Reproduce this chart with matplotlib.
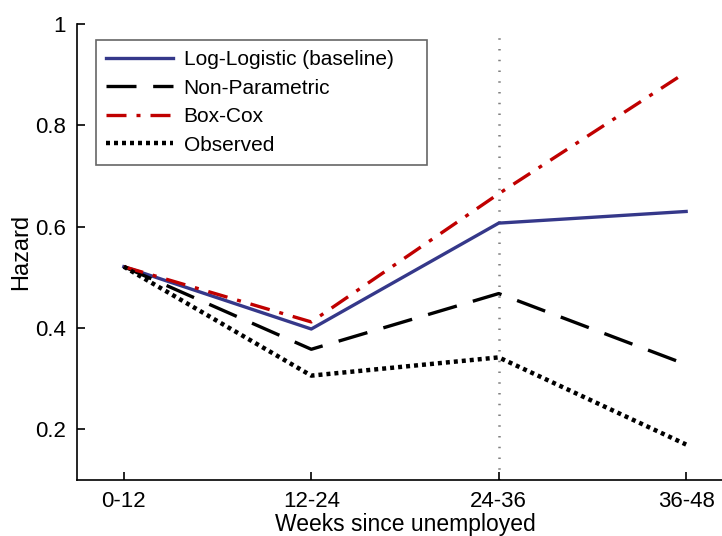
import matplotlib
matplotlib.use("Agg")
import matplotlib.pyplot as plt

plt.rcParams['font.family'] = ['Liberation Sans', 'DejaVu Sans']

# data
periods = ['0-12', '12-24', '24-36', '36-48']
log_logistic = [0.521, 0.398, 0.607, 0.630]
non_parametric = [0.521, 0.358, 0.468, 0.328]
box_cox = [0.521, 0.412, 0.665, 0.905]
observed = [0.521, 0.306, 0.342, 0.170]
yticks = [0.2, 0.4, 0.6, 0.8, 1.0]
yticklabels = ['0.2', '0.4', '0.6', '0.8', '1']

fig = plt.figure(figsize=(7.22, 5.36), dpi=100)
# right part of the axis is cut off in the original image
ax = fig.add_axes([77 / 722, 56 / 536, 656 / 722, 456 / 536])

x = list(range(1, len(periods) + 1))
ax.axvline(3, ymax=0.99, color='#808080', lw=1.8, ls=(0, (0.6, 3.7)), zorder=1)

ax.plot(x, log_logistic, color='#35388a', lw=2.4, label='Log-Logistic (baseline)')
ax.plot(x, non_parametric, color='black', lw=2.4, ls=(0, (9, 5)), label='Non-Parametric')
ax.plot(x, box_cox, color='#c00000', lw=2.4, ls=(0, (6, 3, 1.2, 3)), label='Box-Cox')
ax.plot(x, observed, color='black', lw=3.2, ls=(0, (0.9, 0.9)), label='Observed')

ax.set_xlim(0.75, 4.25)
ax.set_ylim(0.1, 1.0)
ax.set_xticks(x)
ax.set_xticklabels(periods)
ax.set_yticks(yticks)
ax.set_yticklabels(yticklabels)
ax.tick_params(labelsize=16, direction='in', length=6, width=1.2, pad=8)
ax.spines['top'].set_visible(False)
ax.spines['right'].set_visible(False)
ax.spines['left'].set_linewidth(1.2)
ax.spines['bottom'].set_linewidth(1.2)

ax.set_xlabel('Weeks since unemployed', fontsize=16.5, labelpad=1)
ax.set_ylabel('Hazard', fontsize=17, labelpad=2)

leg = ax.legend(loc='upper left', bbox_to_anchor=(0.029, 0.5, 0.505, 0.465),
                mode='expand', borderaxespad=0, fontsize=15,
                frameon=True, fancybox=False, handlelength=3.2, handletextpad=0.5,
                labelspacing=0.45, borderpad=0.5)
leg.get_frame().set_edgecolor('#404040')
leg.get_frame().set_linewidth(1.2)

fig.savefig('out.png', dpi=100)
